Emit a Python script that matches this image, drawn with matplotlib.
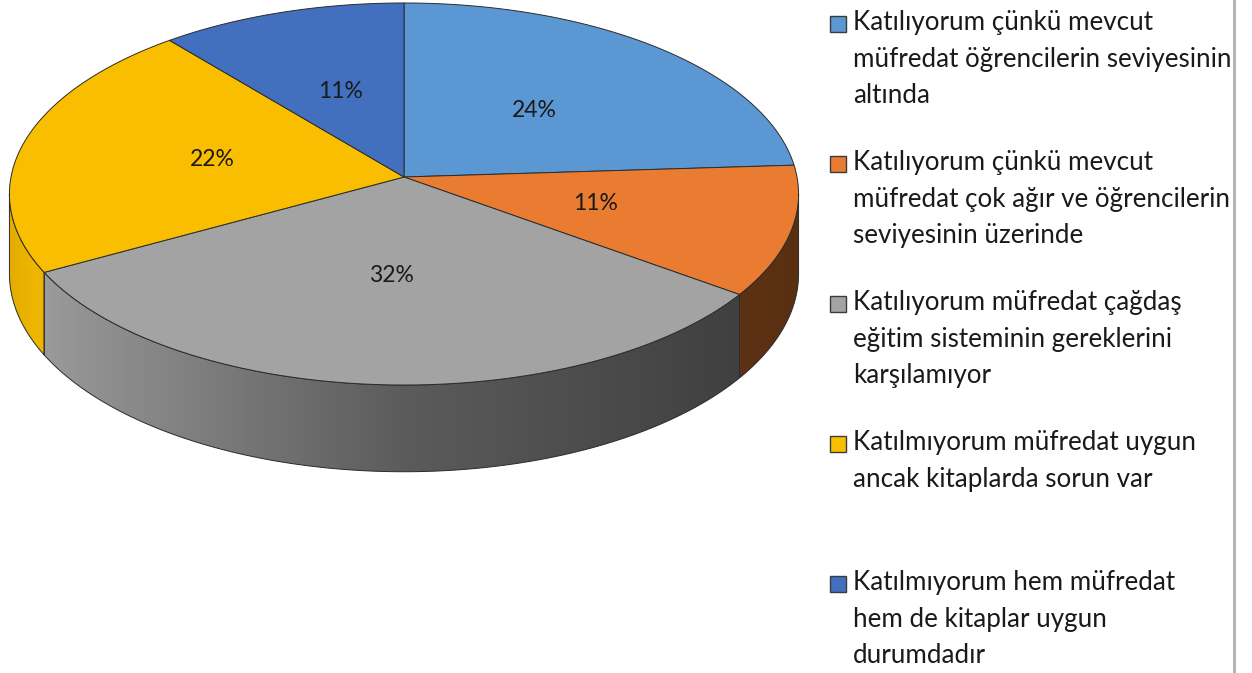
import numpy as np
import matplotlib.pyplot as plt
from matplotlib.patches import Polygon, Rectangle
from matplotlib.colors import to_rgb

plt.rcParams['font.family'] = ['Lato', 'DejaVu Sans']

labels = [
    "Katılıyorum çünkü mevcut\nmüfredat öğrencilerin seviyesinin\naltında",
    "Katılıyorum çünkü mevcut\nmüfredat çok ağır ve öğrencilerin\nseviyesinin üzerinde",
    "Katılıyorum müfredat çağdaş\neğitim sisteminin gereklerini\nkarşılamıyor",
    "Katılmıyorum müfredat uygun\nancak kitaplarda sorun var",
    "Katılmıyorum hem müfredat\nhem de kitaplar uygun\ndurumdadır",
]
values = [24, 11, 32, 22, 11]
colors = ['#5B97D3', '#EA7C31', '#A3A3A3', '#F9BE00', '#4270BF']

# pie geometry in pixel coords (perspective tilted disc)
CX, CY, RX, RY, P, DEPTH = 404, 177, 393, 189.5, 0.089, 79
EDGE = '#2b2b2b'


def proj(theta, r=1.0, drop=0.0):
    X = r * np.cos(theta)
    Z = -r * np.sin(theta)
    s = 1.0 / (1.0 - P * Z)
    return CX + RX * X * s, CY + (RY * Z + drop) * s


def shade(theta):
    X = np.cos(theta)
    return np.interp(X, [-1, -0.9, 0, 0.75, 1], [0.9, 0.96, 0.56, 0.40, 0.38])


fig = plt.figure(figsize=(12.52, 6.73), dpi=100)
ax = fig.add_axes([0, 0, 1, 1])

fracs = np.array(values) / np.sum(values)
bounds = np.radians(90 - 360 * np.concatenate([[0], np.cumsum(fracs)]))

# silhouette angles of the side wall
tt = np.linspace(-np.pi, 0, 4000)
xx = proj(tt)[0]
tL, tR = tt[np.argmin(xx)], tt[np.argmax(xx)]

# side walls, shaded left (light) to right (dark)
for i in range(len(values)):
    b0, b1 = bounds[i], bounds[i + 1]
    lo, hi = max(b1, tL), min(b0, tR)
    if lo >= hi:
        continue
    t = np.linspace(lo, hi, 300)
    xt, yt = proj(t)
    xbm, ybm = proj(t, drop=DEPTH)
    outline = np.column_stack([np.concatenate([xt, xbm[::-1]]), np.concatenate([yt, ybm[::-1]])])
    wall = Polygon(outline, closed=True, facecolor='none', edgecolor='none')
    ax.add_patch(wall)
    x0, x1 = xt.min() - 2, xt.max() + 2
    y0, y1 = yt.min() - 2, ybm.max() + 2
    cols = np.linspace(x0, x1, 400)
    order = np.argsort(xt)
    th = np.interp(cols, xt[order], t[order])
    rgb = np.clip(np.array(to_rgb(colors[i]))[None, :] * shade(th)[:, None], 0, 1)
    img = np.repeat(rgb[None, :, :], 2, axis=0)
    im = ax.imshow(img, extent=(x0, x1, y1, y0), aspect='auto', interpolation='bilinear', zorder=1)
    im.set_clip_path(wall)
    ax.add_patch(Polygon(outline, closed=True, fill=False, edgecolor=EDGE, linewidth=0.7, zorder=2))

ax.set_xlim(0, 1252)
ax.set_ylim(673, 0)
ax.axis('off')

# top faces
for i in range(len(values)):
    t = np.linspace(bounds[i], bounds[i + 1], 200)
    xt, yt = proj(t)
    pts = np.column_stack([np.concatenate([[CX], xt]), np.concatenate([[CY], yt])])
    ax.add_patch(Polygon(pts, closed=True, facecolor=colors[i], edgecolor=EDGE, linewidth=0.7, zorder=3))
    mid = (bounds[i] + bounds[i + 1]) / 2
    lx, ly = proj(mid, r=0.5)
    ax.text(lx, ly, f"{fracs[i] * 100:.0f}%", ha='center', va='center', fontsize=16.5,
            color='#1a1a1a', zorder=4)

# legend
for i, lab in enumerate(labels):
    y0 = 24 + 140 * i
    ax.add_patch(Rectangle((830, y0 - 8), 16, 16, facecolor=colors[i], edgecolor='#3a3a3a', linewidth=1))
    ax.text(853, y0 - 14, lab, ha='left', va='top', fontsize=18.7, color='#1a1a1a', linespacing=1.58)

ax.axvline(1234, color='#b0b0b0', linewidth=2)

fig.savefig('out.png', dpi=100)
